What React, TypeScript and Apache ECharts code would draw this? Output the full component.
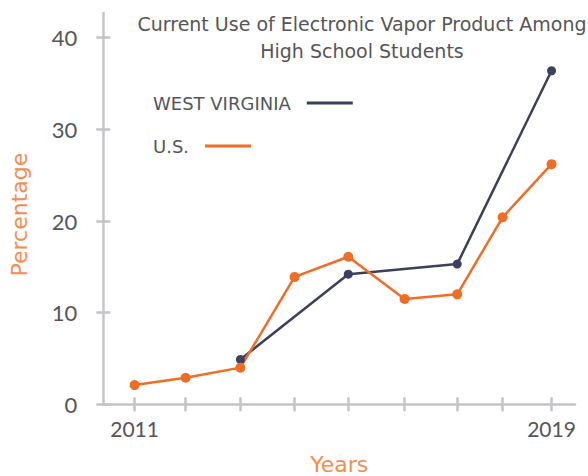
import React, { useEffect, useRef } from "react";
import * as echarts from "echarts";

// x positions (decimal years, as spaced in the source chart)
const usX = [2011.0, 2011.98, 2013.03, 2014.07, 2015.1, 2016.18, 2017.19, 2018.06, 2019.0];
const usValues = [2.1, 2.9, 4.0, 13.9, 16.1, 11.5, 12.0, 20.4, 26.2];
const wvX = [2013.03, 2015.1, 2017.19, 2019.0];
const wvValues = [4.9, 14.2, 15.3, 36.4];
const xLabelValues = [2011, 2019];
const yTickValues = [0, 10, 20, 30, 40];

const FONT = "DejaVu Sans";
const NUM_FONT = "Lato";
const GREY = "#c3c4c8";
const TEXT = "#555559";
const ORANGE = "#f26d24";
const NAVY = "#3c3f5d";
const NAME_ORANGE = "#f78c4e";

export default function App() {
  const ref = useRef<HTMLDivElement>(null);
  useEffect(() => {
    if (!ref.current) return;
    const chart = echarts.init(ref.current, null, { renderer: "svg" });
    const baseX = {
      type: "value" as const,
      min: 2010.4,
      max: 2019.45,
      splitLine: { show: false },
    };
    const baseY = {
      type: "value" as const,
      min: 0,
      max: 42.7,
      splitLine: { show: false },
    };
    const legendBase = {
      orient: "horizontal" as const,
      align: "right" as const,
      left: 148,
      itemWidth: 46,
      itemHeight: 3,
      icon: "rect",
      textStyle: { fontFamily: FONT, fontSize: 18, color: TEXT, padding: [0, 11, 0, 0] },
    };
    chart.setOption({
      animation: false,
      textStyle: { fontFamily: FONT },
      title: {
        text: "Current Use of Electronic Vapor Product Among\nHigh School Students",
        left: 357,
        top: 5,
        textAlign: "center",
        textStyle: { fontFamily: FONT, fontSize: 19, fontWeight: "normal", color: TEXT, lineHeight: 27 },
      },
      legend: [
        { ...legendBase, top: 89, data: ["WEST VIRGINIA"] },
        { ...legendBase, top: 132, data: ["U.S."] },
      ],
      grid: { left: 103.3, right: 13, top: 13, bottom: 71.7, containLabel: false, outerBoundsMode: "none" },
      xAxis: [
        {
          ...baseX,
          position: "bottom",
          name: "Years",
          nameLocation: "middle",
          nameGap: 49,
          nameTextStyle: { fontFamily: FONT, fontSize: 22, color: NAME_ORANGE },
          axisLine: { onZero: false, lineStyle: { color: GREY, width: 2.5 } },
          axisTick: { show: true, length: 7, customValues: usX, lineStyle: { color: GREY, width: 2.5 } },
          axisLabel: {
            customValues: xLabelValues,
            margin: 14,
            fontFamily: NUM_FONT,
            fontSize: 21,
            color: TEXT,
            formatter: (v: number) => String(Math.round(v)),
          },
        },
        {
          ...baseX,
          position: "bottom",
          axisLine: { show: false, onZero: false },
          axisTick: { show: true, inside: true, length: 7, customValues: usX, lineStyle: { color: GREY, width: 2.5 } },
          axisLabel: { show: false },
        },
      ],
      yAxis: [
        {
          ...baseY,
          position: "left",
          name: "Percentage",
          nameLocation: "middle",
          nameGap: 73,
          nameTextStyle: { fontFamily: FONT, fontSize: 22, color: NAME_ORANGE, padding: [0, 12, 0, 0] },
          axisLine: { show: true, lineStyle: { color: GREY, width: 2.5 } },
          axisTick: { show: true, length: 7, customValues: yTickValues, lineStyle: { color: GREY, width: 2.5 } },
          axisLabel: { customValues: yTickValues, margin: 26, fontFamily: NUM_FONT, fontSize: 22, color: TEXT },
        },
        {
          ...baseY,
          position: "left",
          axisLine: { show: false },
          axisTick: { show: true, inside: true, length: 7, customValues: yTickValues, lineStyle: { color: GREY, width: 2.5 } },
          axisLabel: { show: false },
        },
      ],
      series: [
        {
          name: "WEST VIRGINIA",
          type: "line",
          data: wvX.map((x, i) => [x, wvValues[i]]),
          color: NAVY,
          symbol: "circle",
          symbolSize: 9,
          lineStyle: { width: 2.5, color: NAVY },
          itemStyle: { color: NAVY },
        },
        {
          name: "U.S.",
          type: "line",
          data: usX.map((x, i) => [x, usValues[i]]),
          color: ORANGE,
          symbol: "circle",
          symbolSize: 10,
          lineStyle: { width: 2.5, color: ORANGE },
          itemStyle: { color: ORANGE },
        },
      ],
    });
    return () => chart.dispose();
  }, []);
  return <div ref={ref} style={{ width: 588, height: 476, position: "absolute", left: 0, top: 0 }} />;
}
